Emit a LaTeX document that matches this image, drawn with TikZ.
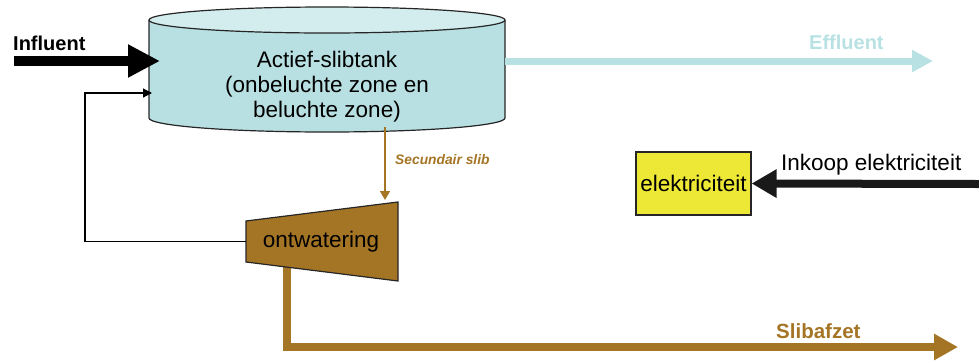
\documentclass[tikz,border=0pt]{standalone}
\usepackage{fontspec}
\setmainfont{Liberation Sans}
\usetikzlibrary{arrows.meta}
\definecolor{tankfill}{HTML}{B8E0E2}
\definecolor{tanktop}{HTML}{D3EDEF}
\definecolor{effl}{HTML}{B7E1E3}
\definecolor{sludge}{HTML}{A57526}
\definecolor{power}{HTML}{EDE735}
\tikzset{
  lbl/.style={inner sep=0pt, font=\fontsize{22.5}{25}\selectfont},
  flowlbl/.style={inner sep=0pt, font=\fontsize{20}{24}\selectfont\bfseries},
  outline/.style={draw=black!85, line width=1.2pt},
}
\begin{document}
\begin{tikzpicture}[x=1pt,y=-1pt]
\useasboundingbox (0,0) rectangle (979,360);

% sludge discharge line (drawn first, runs beneath the dewatering unit)
\coordinate (sl0) at (287,255);
\coordinate (slend) at (958,347);
\draw[sludge, line width=8.5pt, -{Triangle[length=24pt,width=25pt]}]
  (sl0) |- (slend);
\node[flowlbl, font=\fontsize{20.5}{24}\selectfont\bfseries, text=sludge, anchor=south west] (slab) at (776,339) {Slibafzet};

% activated sludge tank (cylinder)
\fill[tankfill] (149,20) -- (149,118) arc[start angle=180,end angle=0,x radius=178,y radius=14]
  -- (505,20) -- cycle;
\draw[outline] (149,20) -- (149,118) arc[start angle=180,end angle=0,x radius=178,y radius=14] -- (505,20);
\draw[outline, fill=tanktop] (327,20) ellipse[x radius=178,y radius=13];
\node[minimum width=356pt, minimum height=98pt, inner sep=0pt] (tank) at (327,69) {};
\node[lbl, align=center] (tanktxt) at (327,86.5)
  {Actief-slibtank\\(onbeluchte zone en\\beluchte zone)};

% influent
\coordinate (inf0) at (14,61);
\draw[line width=10pt, -{Triangle[length=32pt,width=31pt]}] (inf0) -- (160,61);
\node[flowlbl, anchor=south west] (inflab) at (13,51) {Influent};

% effluent
\coordinate (effend) at (933,61);
\draw[effl, line width=7pt, -{Triangle[length=21pt,width=21pt]}] (505,61) -- (effend);
\node[flowlbl, text=effl, anchor=south west] (efflab) at (809,50) {Effluent};

% dewatering unit
\fill[sludge] (246,221) -- (398,202) -- (398,281) -- (246,262) -- cycle;
\draw[outline, line join=miter] (246,221) -- (398,202) -- (398,281) -- (246,262) -- cycle;
\node[minimum width=152pt, minimum height=41pt, inner sep=0pt] (dewater) at (322,241.5) {};
\node[lbl, anchor=center] (dewtxt) at (321,242) {ontwatering};

% secondary sludge
\draw[sludge, line width=1.8pt, -{Triangle[length=9pt,width=10pt]}]
  (385,127) -- (385,200);
\node[inner sep=0pt, text=sludge, anchor=west,
  font=\fontsize{13.8}{16}\selectfont\bfseries\itshape] (seclab) at (395,160) {Secundair slib};

% return line
\coordinate (ret) at (152,93);
\draw[line width=1.2pt, -{Triangle[length=9pt,width=9pt]}]
  (dewater.west) -| (85,93) -- (ret);

% electricity
\node[draw=black!85, line width=1.2pt, fill=power, minimum width=115pt, minimum height=63pt,
  inner sep=0pt, font=\fontsize{22.5}{25}\selectfont] (elec) at (693.5,183.5) {elektriciteit};
\coordinate (buy) at (979,184);
\draw[black!90, line width=8pt, -{Triangle[length=25pt,width=27pt]}] (buy) -- (elec.east);
\node[lbl, anchor=south west] (buylab) at (781,175) {Inkoop elektriciteit};
\end{tikzpicture}
\end{document}
